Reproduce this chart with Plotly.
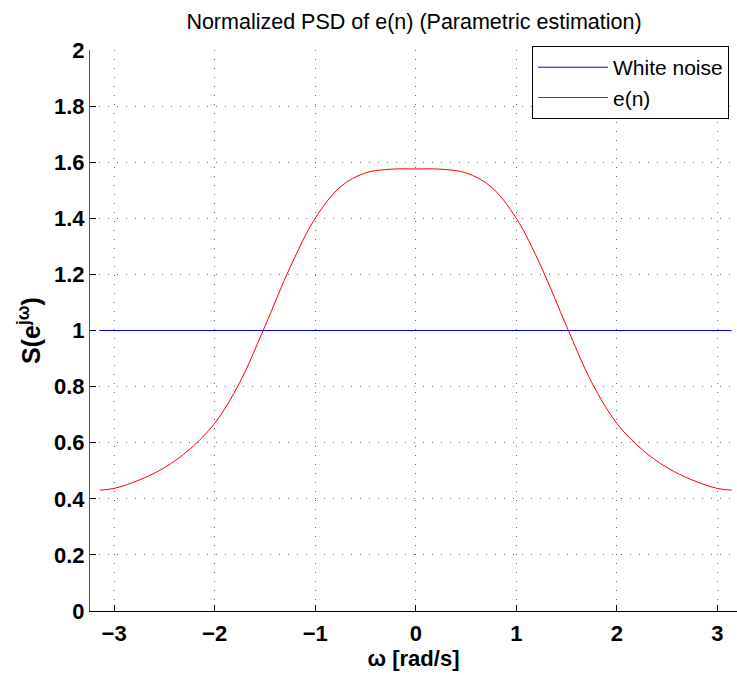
import plotly.graph_objects as go

# Data (symmetric PSD)
omega_half = [-3.1416, -3.0, -2.75, -2.5, -2.25, -2.0, -1.75, -1.5, -1.25, -1.0, -0.75, -0.5, -0.25, 0.0]
psd_half = [0.431, 0.437, 0.467, 0.511, 0.576, 0.669, 0.815, 1.015, 1.225, 1.400, 1.512, 1.562, 1.575, 1.576]

omega = omega_half + [-w for w in omega_half[-2::-1]]
psd = psd_half + psd_half[-2::-1]

white_x = [-3.1416, 3.1416]
white_y = [1.0, 1.0]

x_ticks = [-3, -2, -1, 0, 1, 2, 3]
x_ticklabels = ["\u22123", "\u22122", "\u22121", "0", "1", "2", "3"]
y_ticks = [0, 0.2, 0.4, 0.6, 0.8, 1, 1.2, 1.4, 1.6, 1.8, 2]
y_ticklabels = ["0", "0.2", "0.4", "0.6", "0.8", "1", "1.2", "1.4", "1.6", "1.8", "2"]

fig = go.Figure()
fig.add_trace(go.Scatter(x=white_x, y=white_y, mode="lines", name="White noise",
                         line=dict(color="#0000ff", width=1)))
fig.add_trace(go.Scatter(x=omega, y=psd, mode="lines", name="e(n)",
                         line=dict(color="#ff0000", width=1, shape="spline", smoothing=1.0)))

font_family = "Liberation Sans, Arial, sans-serif"

fig.update_layout(
    width=737, height=675,
    margin=dict(l=90, r=0, t=50, b=64),
    paper_bgcolor="white", plot_bgcolor="white",
    title=dict(text="Normalized PSD of e(n) (Parametric estimation)",
               x=414 / 737, xanchor="center", y=1 - 21 / 675, yanchor="middle",
               font=dict(family=font_family, size=21.5, color="black")),
    showlegend=True,
    legend=dict(x=(532 - 90) / 647, y=1.007, xanchor="left", yanchor="top",
                bgcolor="white", bordercolor="black", borderwidth=1,
                font=dict(family=font_family, size=21, color="black"),
                itemwidth=70, tracegroupgap=0),
    font=dict(family=font_family, color="black"),
)

fig.update_xaxes(
    range=[-3.24, 3.195], tickmode="array", tickvals=x_ticks, ticktext=x_ticklabels,
    ticks="inside", ticklen=6, tickcolor="black", tickwidth=1,
    showline=True, linecolor="black", linewidth=1,
    showgrid=True, gridcolor="#666666", gridwidth=1, griddash="1px,8px",
    zeroline=False, ticklabelstandoff=3,
    tickfont=dict(family=font_family, size=22, color="black", weight="bold"),
    title=dict(text="<b>\u03c9 [rad/s]</b>", font=dict(family=font_family, size=22, color="black"),
               standoff=4),
)
fig.update_yaxes(
    range=[0, 2], tickmode="array", tickvals=y_ticks, ticktext=y_ticklabels,
    ticks="inside", ticklen=6, tickcolor="black", tickwidth=1,
    showline=True, linecolor="#555555", linewidth=1,
    showgrid=True, gridcolor="#666666", gridwidth=1, griddash="1px,8px",
    zeroline=False,
    tickfont=dict(family=font_family, size=22, color="black", weight="bold"),
    title=dict(text="<b>S(e<sup>j\u03c9</sup>)</b>", font=dict(family=font_family, size=25, color="black"),
               standoff=6),
)

fig.write_html("out.html")
